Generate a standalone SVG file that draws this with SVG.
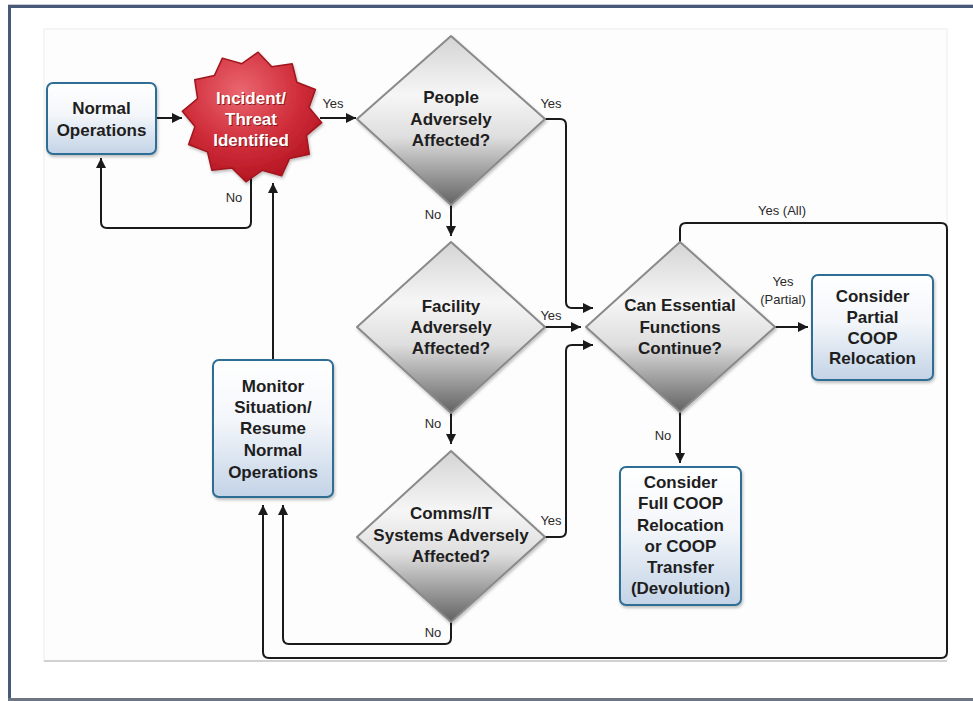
<svg xmlns="http://www.w3.org/2000/svg" width="973" height="701" viewBox="0 0 973 701">
<defs>
<linearGradient id="boxg" x1="0" y1="0" x2="0" y2="1">
<stop offset="0" stop-color="#ffffff"/><stop offset="0.45" stop-color="#f3f6fa"/><stop offset="1" stop-color="#c3d3e6"/>
</linearGradient>
<linearGradient id="diag" x1="0" y1="0" x2="0" y2="1">
<stop offset="0" stop-color="#d4d4d4"/><stop offset="0.35" stop-color="#f6f6f6"/><stop offset="0.6" stop-color="#dedede"/><stop offset="1" stop-color="#626262"/>
</linearGradient>
<radialGradient id="starg" cx="0.42" cy="0.3" r="0.75">
<stop offset="0" stop-color="#ea6670"/><stop offset="0.55" stop-color="#d02e3a"/><stop offset="1" stop-color="#b0121f"/>
</radialGradient>
<filter id="sh" x="-10%" y="-10%" width="125%" height="125%">
<feDropShadow dx="1" dy="2" stdDeviation="1.5" flood-color="#000" flood-opacity="0.25"/>
</filter>
<marker id="ah" markerWidth="10" markerHeight="10" refX="10" refY="5" orient="auto" markerUnits="userSpaceOnUse">
<path d="M0,0 L10,5 L0,10 z" fill="#1a1a1a"/>
</marker>
<style>
.box{fill:url(#boxg);stroke:#2f6d94;stroke-width:2}
.dia{fill:url(#diag);stroke:#8a8a8a;stroke-width:2;stroke-linejoin:round}
.nt{font-family:"Liberation Sans",Arial,sans-serif;font-weight:bold;font-size:17px;fill:#1e1e1e;text-anchor:middle}
.st{font-family:"Liberation Sans",Arial,sans-serif;font-weight:bold;font-size:17px;fill:#ffffff;text-anchor:middle}
.ss{font-family:"Liberation Sans",Arial,sans-serif;font-weight:bold;font-size:17px;fill:#6a1018;text-anchor:middle;opacity:0.8}
.lb{font-family:"Liberation Sans",Arial,sans-serif;font-size:13px;fill:#2a2a2a;text-anchor:middle}
.cn{fill:none;stroke:#1a1a1a;stroke-width:2}
</style>
</defs>
<rect width="973" height="701" fill="#ffffff"/>
<rect x="8" y="4" width="965" height="1" fill="#c9ccd2"/>
<rect x="8" y="5" width="965" height="3" fill="#475a78"/>
<rect x="8" y="5" width="3" height="695" fill="#475a78"/>
<rect x="8" y="698" width="965" height="3" fill="#6e7683"/>
<rect x="44" y="29" width="903" height="632" fill="#fdfdfd" stroke="#ececec" stroke-width="1"/>
<line x1="44" y1="661" x2="947" y2="661" stroke="#c4c4c4" stroke-width="1.5"/>

<g id="connectors">
<path class="cn" d="M156,118 H182" marker-end="url(#ah)"/>
<path class="cn" d="M320,118 H356" marker-end="url(#ah)"/>
<path class="cn" d="M251,176 V222 Q251,228 245,228 H107 Q101,228 101,222 V158" marker-end="url(#ah)"/>
<path class="cn" d="M273,360 V183" marker-end="url(#ah)"/>
<path class="cn" d="M545,119 H560 Q566,119 566,125 V302 Q566,308 572,308 H593" marker-end="url(#ah)"/>
<path class="cn" d="M451,205 V236" marker-end="url(#ah)"/>
<path class="cn" d="M545,327 H581" marker-end="url(#ah)"/>
<path class="cn" d="M451,413 V444" marker-end="url(#ah)"/>
<path class="cn" d="M545,537 H560 Q566,537 566,531 V351 Q566,345 572,345 H593" marker-end="url(#ah)"/>
<path class="cn" d="M451,622 V638 Q451,644 445,644 H289 Q283,644 283,638 V505" marker-end="url(#ah)"/>
<path class="cn" d="M680,242 V229 Q680,223 686,223 H941 Q947,223 947,229 V652 Q947,658 941,658 H269 Q263,658 263,652 V505" marker-end="url(#ah)"/>
<path class="cn" d="M775,327 H808" marker-end="url(#ah)"/>
<path class="cn" d="M680,412 V463" marker-end="url(#ah)"/>
<text class="lb" x="333" y="108">Yes</text>
<text class="lb" x="234" y="202">No</text>
<text class="lb" x="551" y="108">Yes</text>
<text class="lb" x="433" y="219">No</text>
<text class="lb" x="551" y="320">Yes</text>
<text class="lb" x="433" y="428">No</text>
<text class="lb" x="551" y="525">Yes</text>
<text class="lb" x="433" y="637">No</text>
<text class="lb" x="782" y="215">Yes (All)</text>
<text class="lb" x="783" y="286">Yes</text>
<text class="lb" x="783" y="304">(Partial)</text>
<text class="lb" x="663" y="440">No</text>
</g>

<g id="incident">
<polygon points="258.1,52.2 271.8,66.7 292.2,63.8 296.8,82.2 315.4,89.5 309.0,107.6 321.7,122.7 306.5,135.4 309.3,154.3 289.5,158.6 281.6,175.9 262.1,170.3 245.9,181.8 232.2,168.1 211.8,170.2 207.5,151.9 188.6,144.5 195.0,126.4 182.3,111.3 197.6,98.6 194.7,79.7 214.5,75.4 222.4,58.1 241.9,63.7" fill="url(#starg)" stroke="#a0161f" stroke-width="1.5" stroke-linejoin="round" filter="url(#sh)"/>
<text class="ss" x="252" y="105">Incident/</text>
<text class="ss" x="252" y="126">Threat</text>
<text class="ss" x="252" y="147">Identified</text>
<text class="st" x="251" y="104">Incident/</text>
<text class="st" x="251" y="125">Threat</text>
<text class="st" x="251" y="146">Identified</text>
</g>

<g id="normal-operations">
<rect class="box" x="47" y="83" width="109" height="71" rx="6" filter="url(#sh)"/>
<text class="nt" x="101.5" y="114">Normal</text>
<text class="nt" x="101.5" y="136">Operations</text>
</g>

<g id="people">
<polygon class="dia" points="451,36 545,119 451,205 357,119" filter="url(#sh)"/>
<text class="nt" x="451" y="103">People</text>
<text class="nt" x="451" y="125">Adversely</text>
<text class="nt" x="451" y="146">Affected?</text>
</g>

<g id="facility">
<polygon class="dia" points="451,242 545,327 451,413 357,327" filter="url(#sh)"/>
<text class="nt" x="451" y="312">Facility</text>
<text class="nt" x="451" y="333">Adversely</text>
<text class="nt" x="451" y="354">Affected?</text>
</g>

<g id="comms">
<polygon class="dia" points="451,451 545,537 451,622 357,537" filter="url(#sh)"/>
<text class="nt" x="451" y="519">Comms/IT</text>
<text class="nt" x="451" y="541">Systems Adversely</text>
<text class="nt" x="451" y="562">Affected?</text>
</g>

<g id="can-continue">
<polygon class="dia" points="680,242 775,327 680,412 586,327" filter="url(#sh)"/>
<text class="nt" x="680" y="311">Can Essential</text>
<text class="nt" x="680" y="333">Functions</text>
<text class="nt" x="680" y="354">Continue?</text>
</g>

<g id="monitor">
<rect class="box" x="213" y="360" width="120" height="137" rx="6" filter="url(#sh)"/>
<text class="nt" x="273" y="392">Monitor</text>
<text class="nt" x="273" y="413">Situation/</text>
<text class="nt" x="273" y="434">Resume</text>
<text class="nt" x="273" y="456">Normal</text>
<text class="nt" x="273" y="478">Operations</text>
</g>

<g id="partial">
<rect class="box" x="812" y="275" width="121" height="105" rx="6" filter="url(#sh)"/>
<text class="nt" x="872.5" y="302">Consider</text>
<text class="nt" x="872.5" y="323">Partial</text>
<text class="nt" x="872.5" y="344">COOP</text>
<text class="nt" x="872.5" y="364">Relocation</text>
</g>

<g id="full">
<rect class="box" x="620" y="467" width="121" height="138" rx="6" filter="url(#sh)"/>
<text class="nt" x="680.5" y="488">Consider</text>
<text class="nt" x="680.5" y="509">Full COOP</text>
<text class="nt" x="680.5" y="531">Relocation</text>
<text class="nt" x="680.5" y="552">or COOP</text>
<text class="nt" x="680.5" y="573">Transfer</text>
<text class="nt" x="680.5" y="594">(Devolution)</text>
</g>
</svg>
